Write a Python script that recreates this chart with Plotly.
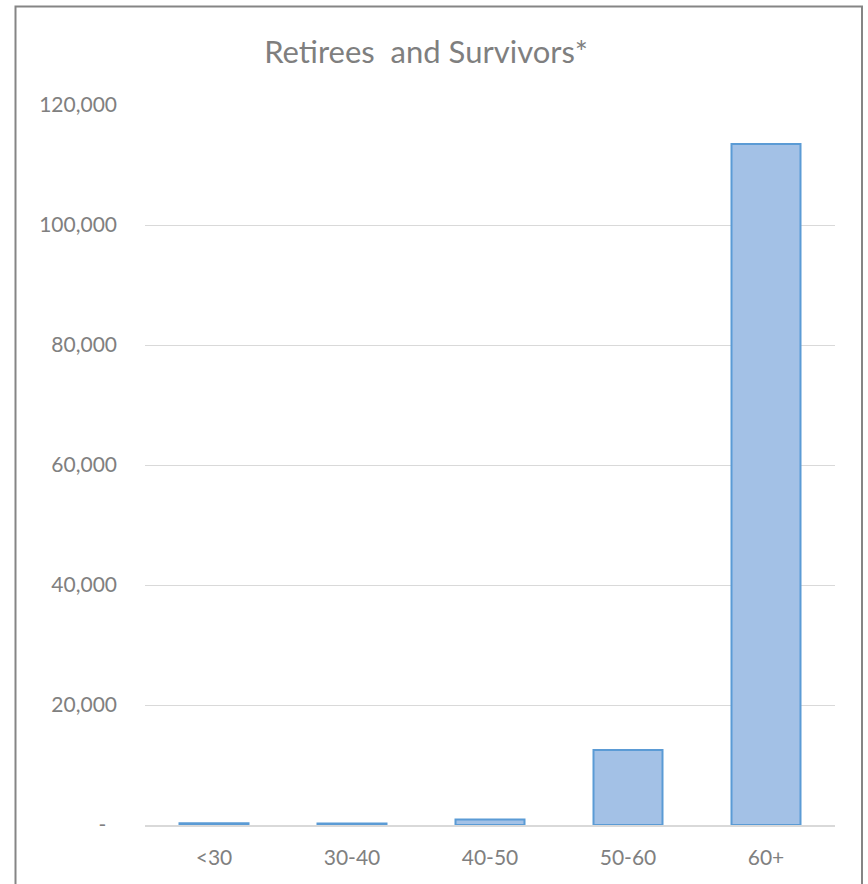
import plotly.graph_objects as go

categories = ["<30", "30-40", "40-50", "50-60", "60+"]
values = [300, 250, 900, 12500, 113500]
ytick_vals = [0, 20000, 40000, 60000, 80000, 100000, 120000]
ytick_text = ["-\u00a0\u00a0", "20,000", "40,000", "60,000", "80,000", "100,000", "120,000"]
title_text = "Retirees  and Survivors*"

W, H = 868, 884
L, R, T, B = 145, 33, 105, 59
pw, ph = W - L - R, H - T - B

fig = go.Figure(go.Bar(
    x=categories, y=values,
    width=0.5,
    marker=dict(color="#a3c1e6", line=dict(color="#5b9bd5", width=2)),
))

def px_x(p):
    return (p - L) / pw

def px_y(p):
    return (H - B - p) / ph

fig.add_shape(type="rect", xref="paper", yref="paper",
              x0=px_x(15.5), x1=px_x(862), y0=px_y(900), y1=px_y(6.5),
              line=dict(color="#858585", width=2), fillcolor="rgba(0,0,0,0)", layer="above")

fig.update_layout(
    width=W, height=H,
    margin=dict(l=L, r=R, t=T, b=B),
    paper_bgcolor="white", plot_bgcolor="white",
    font=dict(family="Lato, Open Sans, sans-serif", color="#7f7f7f", size=21),
    title=dict(text=title_text, x=426 / W, xanchor="center", y=1 - 52 / H, yanchor="middle",
               font=dict(size=31, color="#7f7f7f")),
    showlegend=False,
    bargap=0.5,
)
fig.update_yaxes(range=[0, 120000], tickvals=ytick_vals, ticktext=ytick_text,
                 showgrid=True, gridcolor="#d9d9d9", gridwidth=1, zeroline=False,
                 showline=False, ticks="", ticklabelstandoff=27,
                 tickfont=dict(size=21, color="#808080"))
fig.update_xaxes(showline=True, linecolor="#d9d9d9", linewidth=1.5, ticks="",
                 ticklabelstandoff=13, tickfont=dict(size=21, color="#808080"))

fig.write_html("out.html")
